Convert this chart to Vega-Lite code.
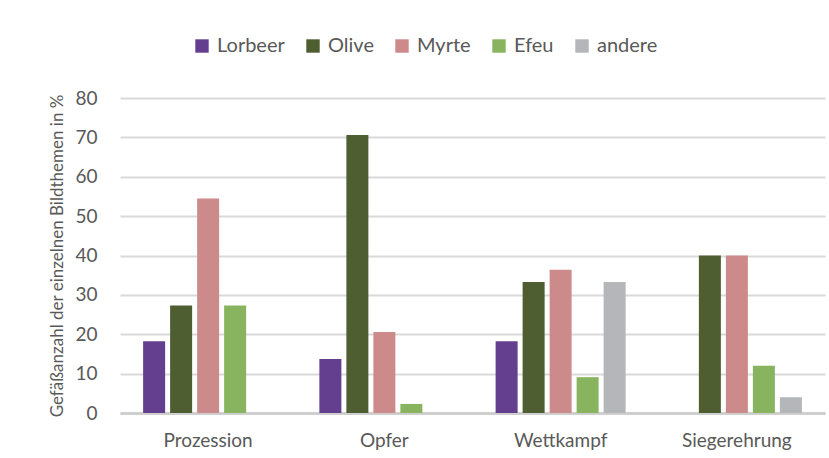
{
  "$schema": "https://vega.github.io/schema/vega-lite/v6.json",
  "width": 705,
  "height": 315,
  "autosize": {"type": "none"},
  "padding": {"left": 120, "top": 98, "right": 4, "bottom": 45},
  "background": "white",
  "data": {
    "values": [
      {"thema": "Prozession", "pflanze": "Lorbeer", "wert": 18.2},
      {"thema": "Prozession", "pflanze": "Olive", "wert": 27.3},
      {"thema": "Prozession", "pflanze": "Myrte", "wert": 54.5},
      {"thema": "Prozession", "pflanze": "Efeu", "wert": 27.3},
      {"thema": "Prozession", "pflanze": "andere", "wert": 0},
      {"thema": "Opfer", "pflanze": "Lorbeer", "wert": 13.7},
      {"thema": "Opfer", "pflanze": "Olive", "wert": 70.6},
      {"thema": "Opfer", "pflanze": "Myrte", "wert": 20.6},
      {"thema": "Opfer", "pflanze": "Efeu", "wert": 2.3},
      {"thema": "Opfer", "pflanze": "andere", "wert": 0},
      {"thema": "Wettkampf", "pflanze": "Lorbeer", "wert": 18.2},
      {"thema": "Wettkampf", "pflanze": "Olive", "wert": 33.3},
      {"thema": "Wettkampf", "pflanze": "Myrte", "wert": 36.4},
      {"thema": "Wettkampf", "pflanze": "Efeu", "wert": 9.1},
      {"thema": "Wettkampf", "pflanze": "andere", "wert": 33.3},
      {"thema": "Siegerehrung", "pflanze": "Lorbeer", "wert": 0},
      {"thema": "Siegerehrung", "pflanze": "Olive", "wert": 40},
      {"thema": "Siegerehrung", "pflanze": "Myrte", "wert": 40},
      {"thema": "Siegerehrung", "pflanze": "Efeu", "wert": 12},
      {"thema": "Siegerehrung", "pflanze": "andere", "wert": 4}
    ]
  },
  "mark": {"type": "bar"},
  "encoding": {
    "x": {
      "field": "thema",
      "type": "nominal",
      "sort": ["Prozession", "Opfer", "Wettkampf", "Siegerehrung"],
      "scale": {"paddingInner": 0.234, "paddingOuter": 0.117},
      "axis": {
        "title": null,
        "labelAngle": 0,
        "labelFont": "Lato",
        "labelFontSize": 19,
        "labelColor": "#595959",
        "labelPadding": 18,
        "ticks": false,
        "domainColor": "#CFCFCF",
        "domainWidth": 3,
        "grid": false
      }
    },
    "xOffset": {
      "field": "pflanze",
      "type": "nominal",
      "sort": ["Lorbeer", "Olive", "Myrte", "Efeu", "andere"],
      "scale": {"paddingInner": 0.185, "paddingOuter": 0.0925}
    },
    "y": {
      "field": "wert",
      "type": "quantitative",
      "scale": {"domain": [0, 80], "nice": false},
      "axis": {
        "title": "Gefäßanzahl der einzelnen Bildthemen in %",
        "titleFont": "Lato",
        "titleFontSize": 17,
        "titleFontWeight": "normal",
        "titleColor": "#595959",
        "titlePadding": 8,
        "values": [0, 10, 20, 30, 40, 50, 60, 70, 80],
        "labelFont": "Lato",
        "labelFontSize": 19,
        "labelColor": "#595959",
        "labelPadding": 23,
        "ticks": false,
        "domain": false,
        "gridColor": "#D9D9D9",
        "gridWidth": 2
      }
    },
    "color": {
      "field": "pflanze",
      "type": "nominal",
      "sort": ["Lorbeer", "Olive", "Myrte", "Efeu", "andere"],
      "scale": {
        "domain": ["Lorbeer", "Olive", "Myrte", "Efeu", "andere"],
        "range": ["#643F8F", "#4E5E31", "#CD8A8A", "#88B460", "#B5B6BA"]
      },
      "legend": {
        "title": null,
        "orient": "none",
        "direction": "horizontal",
        "legendX": 72,
        "legendY": -62,
        "symbolType": "square",
        "symbolSize": 180,
        "symbolStrokeWidth": 0,
        "labelFont": "Lato",
        "labelFontSize": 20,
        "labelColor": "#595959",
        "labelOffset": 5,
        "columnPadding": 18
      }
    }
  },
  "config": {
    "view": {"stroke": null}
  }
}
